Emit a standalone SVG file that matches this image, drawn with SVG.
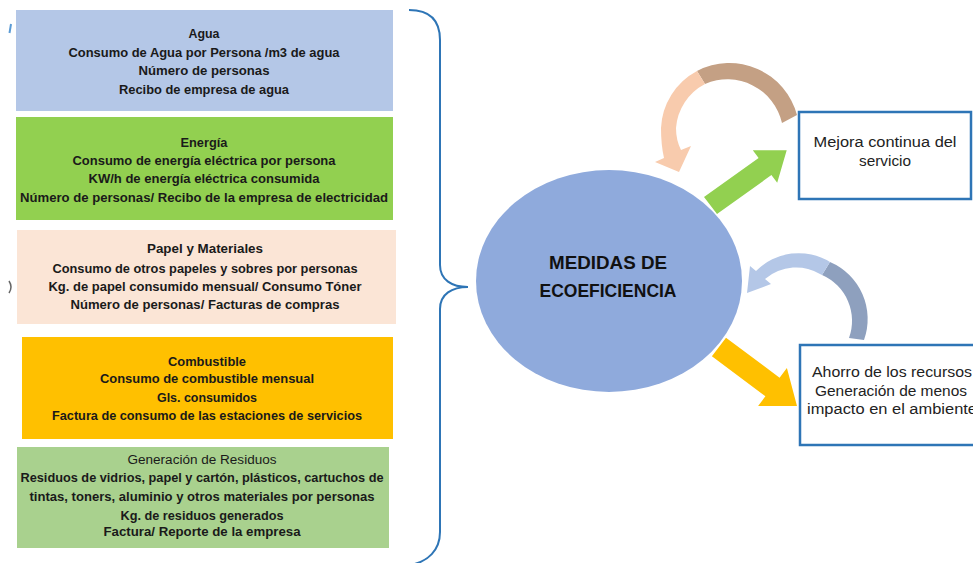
<svg xmlns="http://www.w3.org/2000/svg" width="973" height="563" viewBox="0 0 973 563">
<style>
.bx text{font-family:"Liberation Sans",Arial,sans-serif;font-size:12px;font-weight:bold;fill:#1a1a1a;text-anchor:middle}
.bx text.n{font-weight:normal}
.ob{fill:#fff;stroke:#2E75B6;stroke-width:2.5}
.ot{font-family:"Liberation Sans",Arial,sans-serif;font-size:14px;fill:#222;text-anchor:middle}
.ct{font-family:"Liberation Sans",Arial,sans-serif;font-size:18px;font-weight:bold;fill:#111;text-anchor:middle}
</style>
<rect width="973" height="563" fill="#fff"/>
<path d="M11,24 L9.5,33" stroke="#5B9BD5" stroke-width="2" fill="none"/>
<path d="M9,281 Q13,287 9,293" stroke="#666" stroke-width="1.5" fill="none"/>

<g id="agua" class="bx">
<rect x="16" y="10" width="377" height="101" fill="#B4C7E7"/>
<text x="204" y="38" textLength="31" lengthAdjust="spacingAndGlyphs">Agua</text>
<text x="204" y="57" textLength="271" lengthAdjust="spacingAndGlyphs">Consumo de Agua por Persona /m3 de agua</text>
<text x="204" y="75" textLength="131" lengthAdjust="spacingAndGlyphs">Número de personas</text>
<text x="204" y="94" textLength="170" lengthAdjust="spacingAndGlyphs">Recibo de empresa de agua</text>
</g>
<g id="energia" class="bx">
<rect x="16" y="117" width="377" height="103" fill="#92D050"/>
<text x="204" y="147" textLength="47" lengthAdjust="spacingAndGlyphs">Energía</text>
<text x="204" y="165" textLength="263" lengthAdjust="spacingAndGlyphs">Consumo de energía eléctrica por persona</text>
<text x="204" y="183" textLength="231" lengthAdjust="spacingAndGlyphs">KW/h de energía eléctrica consumida</text>
<text x="204" y="202" textLength="368" lengthAdjust="spacingAndGlyphs">Número de personas/ Recibo de la empresa de electricidad</text>
</g>
<g id="papel" class="bx">
<rect x="17" y="230" width="379" height="94" fill="#FBE5D6"/>
<text x="205" y="253" textLength="116" lengthAdjust="spacingAndGlyphs">Papel y Materiales</text>
<text x="205" y="273" textLength="305" lengthAdjust="spacingAndGlyphs">Consumo de otros papeles y sobres por personas</text>
<text x="205" y="291" textLength="313" lengthAdjust="spacingAndGlyphs">Kg. de papel consumido mensual/ Consumo Tóner</text>
<text x="205" y="309" textLength="269" lengthAdjust="spacingAndGlyphs">Número de personas/ Facturas de compras</text>
</g>
<g id="combustible" class="bx">
<rect x="22" y="337" width="371" height="102" fill="#FFC000"/>
<text x="207" y="366" textLength="78" lengthAdjust="spacingAndGlyphs">Combustible</text>
<text x="207" y="383" textLength="214" lengthAdjust="spacingAndGlyphs">Consumo de combustible mensual</text>
<text x="207" y="402" textLength="100" lengthAdjust="spacingAndGlyphs">Gls. consumidos</text>
<text x="207" y="420" textLength="310" lengthAdjust="spacingAndGlyphs">Factura de consumo de las estaciones de servicios</text>
</g>
<g id="residuos" class="bx">
<rect x="17" y="447" width="372" height="101" fill="#A9D18E"/>
<text class="n" x="202" y="464" textLength="149" lengthAdjust="spacingAndGlyphs">Generación de Residuos</text>
<text x="202" y="482" textLength="363" lengthAdjust="spacingAndGlyphs">Residuos de vidrios, papel y cartón, plásticos, cartuchos de</text>
<text x="202" y="501" textLength="345" lengthAdjust="spacingAndGlyphs">tintas, toners, aluminio y otros materiales por personas</text>
<text x="202" y="520" textLength="163" lengthAdjust="spacingAndGlyphs">Kg. de residuos generados</text>
<text x="202" y="536" textLength="197" lengthAdjust="spacingAndGlyphs">Factura/ Reporte de la empresa</text>
</g>

<g id="medidas">
<ellipse cx="609" cy="281" rx="133" ry="111" fill="#8FAADC"/>
<text class="ct" x="608" y="268.5" textLength="118" lengthAdjust="spacingAndGlyphs">MEDIDAS DE</text>
<text class="ct" x="608" y="296.5" textLength="137" lengthAdjust="spacingAndGlyphs">ECOEFICIENCIA</text>
</g>
<g id="mejora">
<rect class="ob" x="799" y="112" width="172" height="87"/>
<text class="ot" x="885" y="147" textLength="143" lengthAdjust="spacingAndGlyphs">Mejora continua del</text>
<text class="ot" x="885" y="166" textLength="52" lengthAdjust="spacingAndGlyphs">servicio</text>
</g>
<g id="ahorro">
<rect class="ob" x="800" y="345" width="200" height="100"/>
<text class="ot" x="892" y="377" textLength="160" lengthAdjust="spacingAndGlyphs">Ahorro de los recursos</text>
<text class="ot" x="891" y="396" textLength="152" lengthAdjust="spacingAndGlyphs">Generación de menos</text>
<text class="ot" x="892" y="414" textLength="170" lengthAdjust="spacingAndGlyphs">impacto en el ambiente</text>
</g>

<g id="connectors">
<path d="M409,10 C430,10 440,20 440,40 L440,265 C440,280 452,287 468,287 C452,287 440,294 440,309 L440,532 C440,550 428,562 410,565" fill="none" stroke="#2E75B6" stroke-width="2"/>
<polygon points="704,197 758.6,157.9 752.8,150.2 786.7,150.2 777.2,182.8 771.4,175.1 717,214" fill="#92D050"/>
<polygon points="726,337.7 779.6,377.7 786.9,368 797,406 758.1,406 765.4,396.3 711.9,356.3" fill="#FFC000"/>
<path d="M797,115 A70,70 0 0 0 697,71 L705,84 A56,56 0 0 1 782,123 Z" fill="#C4A084"/>
<path d="M697,71 A68,68 0 0 0 661,128 Q661,145 664,158 L655,162 L679,172 L691,146 L681,150 Q676,140 676,128 A54,54 0 0 1 705,84 Z" fill="#F8CBAD"/>
<path d="M830,262 A62,62 0 0 1 864,340 L849,338 A50,50 0 0 0 822,275 Z" fill="#8EA0BE"/>
<path d="M830,262 A60,60 0 0 0 756,271 L750,266 L747,293 L771,284 L765,279 A48,48 0 0 1 822,275 Z" fill="#B4C7E7"/>
</g>
</svg>
